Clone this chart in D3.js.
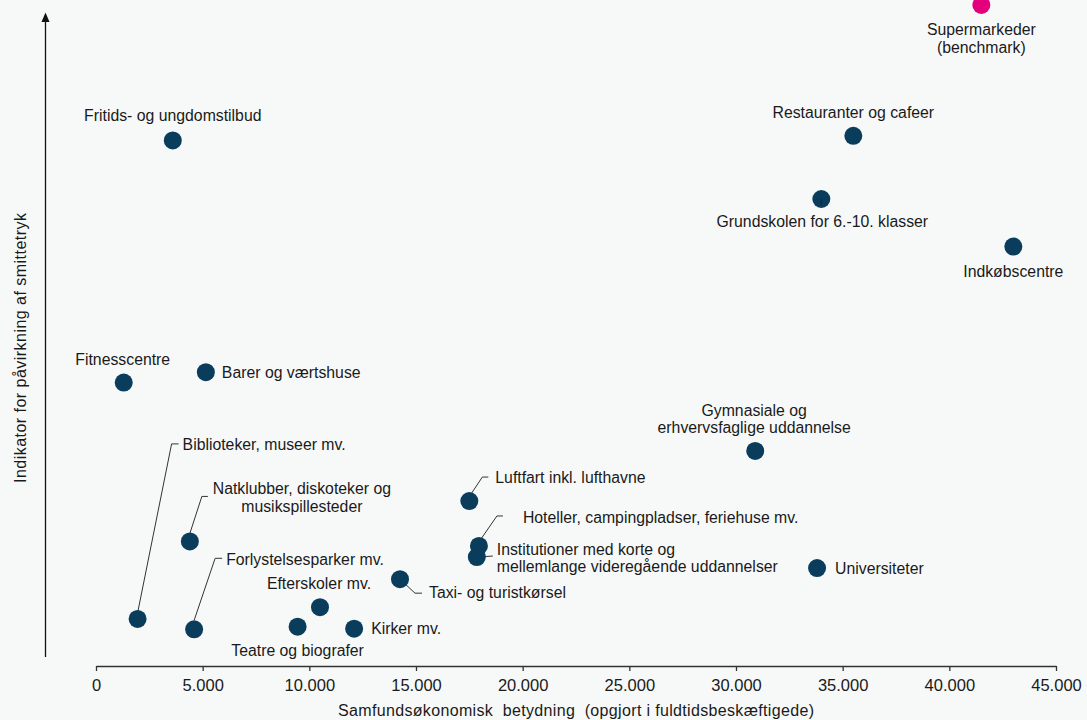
<!DOCTYPE html>
<html>
<head>
<meta charset="utf-8">
<script src="https://cdn.jsdelivr.net/npm/d3@7"></script>
<style>
  html, body { margin: 0; padding: 0; background: #f7f9f9; }
  svg { display: block; font-family: "Liberation Sans", Arial, sans-serif; }
  text { fill: #1a1a1a; white-space: pre; }
</style>
</head>
<body>
<svg id="chart" width="1087" height="720"></svg>
<script>
// ---- data ----
const categories = [
  "Supermarkeder (benchmark)",
  "Restauranter og cafeer",
  "Grundskolen for 6.-10. klasser",
  "Indkøbscentre",
  "Fritids- og ungdomstilbud",
  "Fitnesscentre",
  "Barer og værtshuse",
  "Gymnasiale og erhvervsfaglige uddannelse",
  "Luftfart inkl. lufthavne",
  "Hoteller, campingpladser, feriehuse mv.",
  "Institutioner med korte og mellemlange videregående uddannelser",
  "Universiteter",
  "Taxi- og turistkørsel",
  "Natklubber, diskoteker og musikspillesteder",
  "Biblioteker, museer mv.",
  "Forlystelsesparker mv.",
  "Efterskoler mv.",
  "Teatre og biografer",
  "Kirker mv."
];
const economicImportance = [41500, 35500, 34000, 43000, 3600, 1300, 5150, 30900, 17500, 17950, 17850, 33800, 14250, 4400, 1950, 4600, 10500, 9450, 12100];
const infectionIndicator = [100, 79.9, 70.2, 62.9, 79.2, 42.0, 43.6, 31.5, 23.8, 16.9, 15.2, 13.5, 11.8, 17.6, 5.7, 4.1, 7.5, 4.5, 4.2];
const isBenchmark = [true, false, false, false, false, false, false, false, false, false, false, false, false, false, false, false, false, false, false];
const xTickValues = [0, 5000, 10000, 15000, 20000, 25000, 30000, 35000, 40000, 45000];
const xAxisTitle = "Samfundsøkonomisk  betydning  (opgjort i fuldtidsbeskæftigede)";
const yAxisTitle = "Indikator for påvirkning af smittetryk";

// ---- layout (label placement, in px relative to the point) ----
const labelLayout = [
  { lines: ["Supermarkeder", "(benchmark)"], dx: 0, dy: 30, anchor: "middle", lh: 18 },
  { lines: ["Restauranter og cafeer"], dx: 0, dy: -18, anchor: "middle" },
  { lines: ["Grundskolen for 6.-10. klasser"], dx: 1, dy: 28, anchor: "middle", leader: [[0, 0], [0, 6]] },
  { lines: ["Indkøbscentre"], dx: 0, dy: 30, anchor: "middle" },
  { lines: ["Fritids- og ungdomstilbud"], dx: 0, dy: -19, anchor: "middle" },
  { lines: ["Fitnesscentre"], dx: -1, dy: -18, anchor: "middle" },
  { lines: ["Barer og værtshuse"], dx: 16, dy: 6, anchor: "start" },
  { lines: ["Gymnasiale og", "erhvervsfaglige uddannelse"], dx: -1, dy: -35, anchor: "middle", lh: 17 },
  { lines: ["Luftfart inkl. lufthavne"], dx: 26, dy: -18, anchor: "start", leader: [[1, -6], [13, -24], [19, -24]] },
  { lines: ["Hoteller, campingpladser, feriehuse mv."], dx: 44, dy: -23, anchor: "start", leader: [[0, -4], [18, -30], [24, -30]] },
  { lines: ["Institutioner med korte og", "mellemlange videregående uddannelser"], dx: 20, dy: -2, anchor: "start", lh: 17, leader: [[0, 0], [16, -1]] },
  { lines: ["Universiteter"], dx: 18, dy: 6, anchor: "start" },
  { lines: ["Taxi- og turistkørsel"], dx: 29, dy: 19, anchor: "start", leader: [[0, 0], [15, 14], [22, 14]] },
  { lines: ["Natklubber, diskoteker og", "musikspillesteder"], dx: 112, dy: -47, anchor: "middle", lh: 18, leader: [[0, -8], [12, -45], [18, -45]] },
  { lines: ["Biblioteker, museer mv."], dx: 45, dy: -169, anchor: "start", leader: [[0, -6], [34, -175], [41, -175]] },
  { lines: ["Forlystelsesparker mv."], dx: 32, dy: -64, anchor: "start", leader: [[0, -9], [21, -71], [28, -71]] },
  { lines: ["Efterskoler mv."], dx: -1, dy: -18, anchor: "middle" },
  { lines: ["Teatre og biografer"], dx: 0, dy: 29, anchor: "middle" },
  { lines: ["Kirker mv."], dx: 17, dy: 5, anchor: "start" }
];

const svg = d3.select("#chart");
const dotColor = "#0a3d5c", benchColor = "#e4007c";
const labelSize = 15.8;

const x = d3.scaleLinear().domain([0, 45000]).range([96, 1056]);
const y = d3.scaleLinear().domain([0, 100]).range([656, 5]);

const locale = d3.formatLocale({ decimal: ",", thousands: ".", grouping: [3], currency: ["", ""] });
const fmt = locale.format(",d");

// x axis
const xAxisY = 666;
const gx = svg.append("g").attr("transform", `translate(0,${xAxisY})`)
  .call(d3.axisBottom(x).tickValues(xTickValues).tickFormat(fmt).tickSizeOuter(0).tickSizeInner(5).tickPadding(8));
gx.select(".domain").attr("stroke", "#333").attr("stroke-width", 1.3);
gx.selectAll(".tick line").attr("stroke", "#333").attr("stroke-width", 1.3);
gx.selectAll(".tick text").attr("font-size", 16.5).attr("fill", "#1a1a1a")
  .attr("font-family", "Liberation Sans, Arial, sans-serif").attr("dy", "0.71em");

svg.append("text").attr("x", 576).attr("y", 716).attr("text-anchor", "middle")
  .attr("font-size", 16).attr("textLength", 476).attr("lengthAdjust", "spacing").text(xAxisTitle);

// y axis with arrow
svg.append("line").attr("x1", 45.5).attr("x2", 45.5).attr("y1", 657).attr("y2", 20)
  .attr("stroke", "#111").attr("stroke-width", 1.3);
svg.append("path").attr("d", "M45.5,12.5 L41.5,22 L49.5,22 Z").attr("fill", "#111");
svg.append("text").attr("transform", "translate(26,348) rotate(-90)")
  .attr("text-anchor", "middle").attr("font-size", 16).attr("textLength", 270).attr("lengthAdjust", "spacing").text(yAxisTitle);

const pts = categories.map((c, i) => ({ name: c, xv: economicImportance[i], yv: infectionIndicator[i], bench: isBenchmark[i], lay: labelLayout[i] }));

// leader lines
svg.append("g").selectAll("path").data(pts.filter(d => d.lay.leader && !d.name.startsWith("Grundskolen"))).join("path")
  .attr("d", d => d3.line()(d.lay.leader.map(p => [x(d.xv) + p[0], y(d.yv) + p[1]])))
  .attr("fill", "none").attr("stroke", "#333").attr("stroke-width", 1);

// dots
svg.append("g").selectAll("circle").data(pts).join("circle")
  .attr("cx", d => x(d.xv)).attr("cy", d => y(d.yv)).attr("r", 9)
  .attr("fill", d => d.bench ? benchColor : dotColor);

// tiny leader drawn over the Grundskolen dot
svg.append("g").selectAll("path").data(pts.filter(d => d.name.startsWith("Grundskolen"))).join("path")
  .attr("d", d => d3.line()(d.lay.leader.map(p => [x(d.xv) + p[0], y(d.yv) + p[1]])))
  .attr("stroke", "#222").attr("stroke-width", 1);

// labels
const lab = svg.append("g").selectAll("text").data(pts).join("text")
  .attr("font-size", labelSize)
  .attr("text-anchor", d => d.lay.anchor)
  .attr("x", d => x(d.xv) + d.lay.dx)
  .attr("y", d => y(d.yv) + d.lay.dy);
lab.each(function(d) {
  const t = d3.select(this);
  d.lay.lines.forEach((ln, k) => {
    t.append("tspan").attr("x", x(d.xv) + d.lay.dx).attr("dy", k === 0 ? 0 : (d.lay.lh || 18)).text(ln);
  });
});
</script>
</body>
</html>
